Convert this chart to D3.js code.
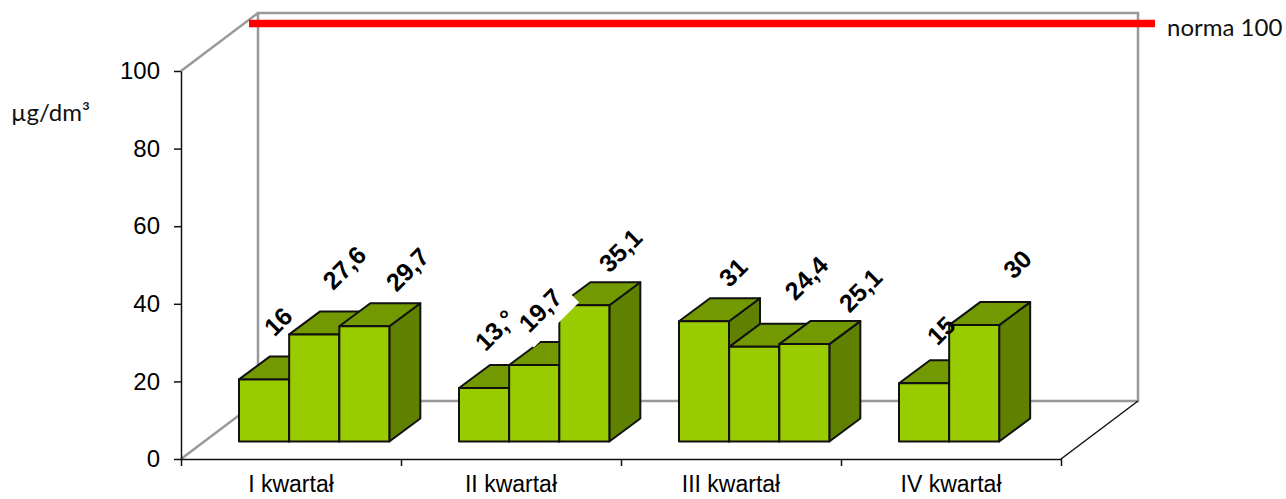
<!DOCTYPE html>
<html>
<head>
<meta charset="utf-8">
<script src="https://cdn.jsdelivr.net/npm/d3@7"></script>
<style>
  html, body { margin: 0; padding: 0; background: #fff; }
  svg { display: block; }
  .d3Axis text { font-family: 'Liberation Sans', Arial, sans-serif; fill: #000; }
  .d3Axis path, .d3Axis line { stroke: #111; stroke-width: 1.5; }
  .note { font-family: Lato, Carlito, sans-serif; font-size: 24px; fill: #111; }
  .valueLabel { font-family: 'Liberation Sans', Arial, sans-serif; font-size: 25px; font-weight: bold; fill: #000; }
</style>
</head>
<body>
<svg class="d3SVG"></svg>
<script>
// values
const quarters = ['I kwartał', 'II kwartał', 'III kwartał', 'IV kwartał']
const seriesIdx = [0, 1, 2]
const q1Values = [16, 27.6, 29.7]
const q2Values = [13.8, 19.7, 35.1]
const q3Values = [31, 24.4, 25.1]
const q4Values = [15, 30, null]
const yTicks = [0, 20, 40, 60, 80, 100]
const normValue = 100

// the 8 of 13,8 is half hidden in the picture, so the label shows as below
const q1Labels = ['16', '27,6', '29,7']
const q2Labels = ['13,°', '19,7', '35,1']
const q3Labels = ['31', '24,4', '25,1']
const q4Labels = ['15', '30', '']

// hand placed labels, offset from the top middle of each bar
const labelNudge = [
  [[14, -58], [30, -67], [43, -57]],
  [[11, -58], [6, -55], [36, -55]],
  [[29, -49], [52, -69], [56, -54]],
  [[17, -53], [43, -61], [0, 0]]
]

const width = 1286
const height = 499
const wallDx = 77
const wallDy = 58
const barDx = 31
const barDy = 23
const floorGap = 17.5
const front = '#99cc00'
const topFace = '#739900'
const sideFace = '#608000'
const wallColor = '#999'

const svg = d3.select('.d3SVG').attr('width', width).attr('height', height)

const yScale = d3.scaleLinear().domain([0, 100]).range([459, 71])
const xScale = d3.scaleBand().domain(quarters).range([181, 1061])
const xTickScale = d3.scaleLinear().domain([0, quarters.length]).range([181, 1061])
const seriesScale = d3.scaleBand().domain(seriesIdx).range([58, 208.5])

const allValues = [q1Values, q2Values, q3Values, q4Values]
const allLabels = [q1Labels, q2Labels, q3Labels, q4Labels]

const x0 = xScale.range()[0]
const x1 = xScale.range()[1]

// back wall and floor
const wall = svg.append('g')
  .attr('fill', 'none')
  .attr('stroke', wallColor)
  .attr('stroke-width', 2.5)

wall.append('path')
  .attr('d', 'M' + (x0 + wallDx) + ',' + (yScale(0) - wallDy) +
    'V' + (yScale(100) - wallDy) +
    'H' + (x1 + wallDx) +
    'V' + (yScale(0) - wallDy) +
    'H' + (x0 + wallDx))
wall.append('path')
  .attr('d', 'M' + x0 + ',' + yScale(100) + 'L' + (x0 + wallDx) + ',' + (yScale(100) - wallDy))
wall.append('path')
  .attr('d', 'M' + x0 + ',' + yScale(0) + 'L' + (x0 + wallDx) + ',' + (yScale(0) - wallDy))

svg.append('path')
  .attr('d', 'M' + x1 + ',' + yScale(0) + 'L' + (x1 + wallDx) + ',' + (yScale(0) - wallDy))
  .attr('fill', 'none')
  .attr('stroke', '#111')
  .attr('stroke-width', 1.5)

// axes
svg.append('g')
  .classed('d3Axis', true)
  .attr('transform', 'translate(' + x0 + ',0)')
  .call(d3.axisLeft(yScale).tickValues(yTicks).tickSize(7).tickSizeOuter(0).tickPadding(14))
  .selectAll('text').style('font-size', '24px')

svg.append('g')
  .classed('d3Axis', true)
  .attr('transform', 'translate(0,' + yScale(0) + ')')
  .call(d3.axisBottom(xTickScale).ticks(quarters.length).tickSize(7).tickSizeOuter(0).tickFormat(''))

const catAxis = svg.append('g')
  .classed('d3Axis', true)
  .attr('transform', 'translate(0,' + yScale(0) + ')')
  .call(d3.axisBottom(xScale).tickSize(0).tickPadding(17))
catAxis.select('.domain').remove()
catAxis.selectAll('text').style('font-size', '23px')

// bars, left to right so that each one covers the side of the one before
const bars = svg.append('g').attr('stroke', '#111').attr('stroke-width', 2).attr('stroke-linejoin', 'round')
const baseY = yScale(0) - floorGap

quarters.forEach((q, i) => {
  seriesIdx.forEach((s) => {
    const v = allValues[i][s]
    if (v === null) return
    const left = xScale(q) + seriesScale(s)
    const right = left + 50
    const top = yScale(v) - floorGap
    bars.append('path')
      .attr('fill', sideFace)
      .attr('d', 'M' + right + ',' + baseY + 'V' + top + 'l' + barDx + ',' + (-barDy) + 'V' + (baseY - barDy) + 'Z')
    bars.append('path')
      .attr('fill', topFace)
      .attr('d', 'M' + left + ',' + top + 'l' + barDx + ',' + (-barDy) + 'H' + (right + barDx) + 'L' + right + ',' + top + 'Z')
    bars.append('rect')
      .attr('fill', front)
      .attr('x', left)
      .attr('y', top)
      .attr('width', right - left)
      .attr('height', baseY - top)
  })
})

// value labels, the 19,7 one has a white box that eats the bars near it
const labelBoxes = svg.append('g')
const labels = svg.append('g')
quarters.forEach((q, i) => {
  seriesIdx.forEach((s) => {
    const v = allValues[i][s]
    if (v === null) return
    const cx = xScale(q) + seriesScale(s) + 25 + labelNudge[i][s][0]
    const cy = yScale(v) - floorGap + labelNudge[i][s][1]
    const place = 'translate(' + cx + ',' + cy + ') rotate(-45)'
    if (allLabels[i][s] === '19,7') {
      labelBoxes.append('rect')
        .attr('transform', place)
        .attr('x', -31)
        .attr('y', -22)
        .attr('width', 64)
        .attr('height', 44)
        .attr('fill', '#fff')
    }
    labels.append('text')
      .classed('valueLabel', true)
      .attr('transform', place)
      .attr('text-anchor', 'middle')
      .attr('dy', '0.36em')
      .text(allLabels[i][s])
  })
})

// norm line sits half way back in the depth of the box
svg.append('line')
  .attr('x1', 249)
  .attr('x2', 1155)
  .attr('y1', yScale(normValue) - 47.5)
  .attr('y2', yScale(normValue) - 47.5)
  .attr('stroke', '#ff0000')
  .attr('stroke-width', 7.5)

svg.append('text')
  .classed('note', true)
  .attr('x', 1167)
  .attr('y', yScale(normValue) - 35)
  .text('norma ' + normValue)

svg.append('text')
  .classed('note', true)
  .attr('x', 11)
  .attr('y', 121)
  .text('µg/dm³')
</script>
</body>
</html>
